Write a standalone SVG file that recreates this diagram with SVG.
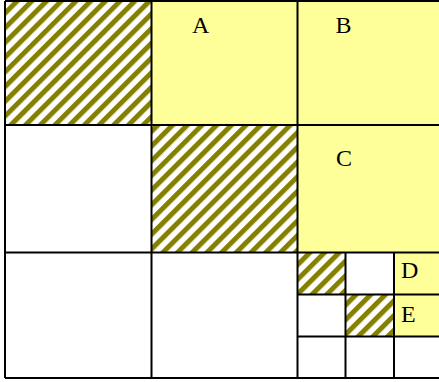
<svg xmlns="http://www.w3.org/2000/svg" width="439" height="382" viewBox="0 0 439 382">
<style>
.y{fill:#ffff99}
.w{fill:#ffffff}
.h{fill:url(#hatch)}
.g{stroke:#000;stroke-width:2;fill:none}
.t{font-family:"Liberation Serif","Times New Roman",serif;font-size:24px;fill:#000}
</style>
<defs>
<pattern id="hatch" patternUnits="userSpaceOnUse" width="10.4" height="10.4" patternTransform="rotate(45)">
<rect width="10.4" height="10.4" fill="#fff"/>
<rect x="0" y="0" width="5" height="10.4" fill="#858000"/>
</pattern>
</defs>
<rect x="0" y="0" width="439" height="382" fill="#fff"/>
<g id="cell-hatch-1"><rect class="h" x="5" y="1" width="146.5" height="124"/></g>
<g id="A"><rect class="y" x="151.5" y="1" width="146" height="124"/><text class="t" x="192" y="33">A</text></g>
<g id="B"><rect class="y" x="297.5" y="1" width="141.5" height="124"/><text class="t" x="335.5" y="33">B</text></g>
<g id="cell-hatch-2"><rect class="h" x="151.5" y="125" width="146" height="127.5"/></g>
<g id="C"><rect class="y" x="297.5" y="125" width="141.5" height="127.5"/><text class="t" x="336" y="166">C</text></g>
<g id="cell-hatch-3"><rect class="h" x="297.5" y="252.5" width="48" height="42"/></g>
<g id="D"><rect class="y" x="394" y="252.5" width="45" height="42"/><text class="t" x="401" y="278">D</text></g>
<g id="cell-hatch-4"><rect class="h" x="345.5" y="294.5" width="48.5" height="42"/></g>
<g id="E"><rect class="y" x="394" y="294.5" width="45" height="42"/><text class="t" x="401" y="322">E</text></g>
<g id="grid">
<path class="g" d="M5 1H439M5 125H439M5 252.5H439M5 378H439M297.5 294.5H439M297.5 336.5H439M5 1V378M151.5 1V378M297.5 1V378M345.5 252.5V378M394 252.5V378"/>
</g>
</svg>
